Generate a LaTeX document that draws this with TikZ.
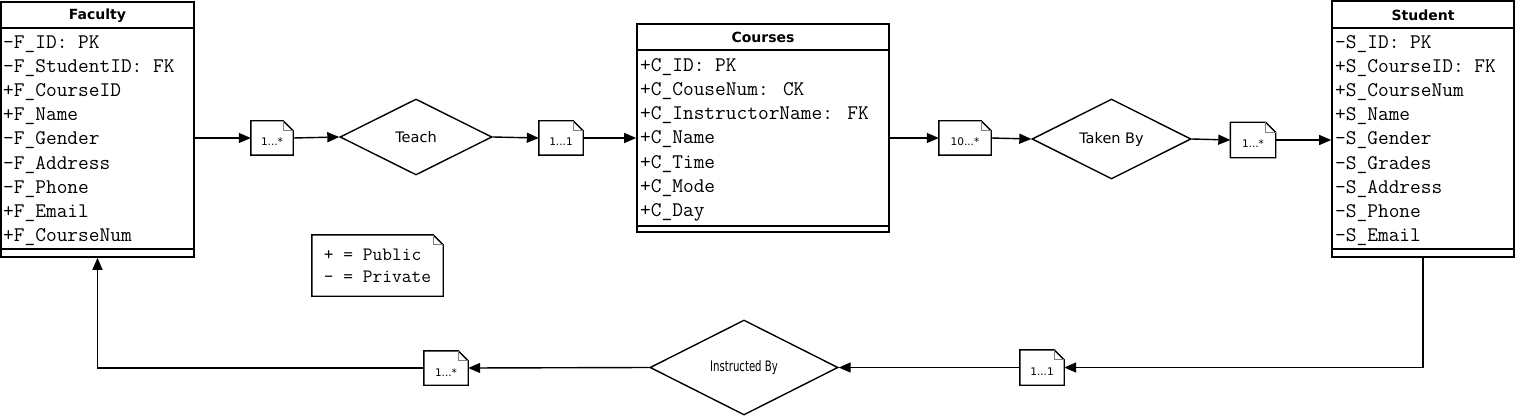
\documentclass[tikz,border=0pt]{standalone}
\usepackage{graphicx}
\usepackage{fontspec}
\setmainfont{DejaVu Sans}
\usetikzlibrary{shapes.geometric,arrows.meta}

\begin{document}
\begin{tikzpicture}[x=1pt,y=-1pt,
	box/.style={draw,line width=1.6pt,inner sep=0},
	attr/.style={anchor=base west,inner sep=0,font=\ttfamily\fontsize{20.8}{24}\selectfont},
	head/.style={inner sep=0,font=\bfseries\fontsize{14}{16}\selectfont},
	rel/.style={draw,diamond,line width=1.4pt,inner sep=0,font=\fontsize{14.5}{16}\selectfont},
	mult/.style={inner sep=0,text height=16pt,text depth=0pt,font=\fontsize{10.5}{12}\selectfont},
	conn/.style={line width=1.4pt,-{Triangle[length=12pt,width=10pt]}}]
	\useasboundingbox (0,0) rectangle (1515,417);
	\node[box,minimum width=193,minimum height=255] (fac) at (97.5,129.5) {};
	\draw[line width=1.6pt] ([yshift=-27pt]fac.north west) -- ([yshift=-27pt]fac.north east);
	\draw[line width=1.6pt] ([yshift=9pt]fac.south west) -- ([yshift=9pt]fac.south east);
	\node[head] (facname) at (97.5,15.5) {Faculty};
	\foreach \a [count=\i] in {-F\_ID: PK,-F\_StudentID: FK,+F\_CourseID,+F\_Name,-F\_Gender,-F\_Address,-F\_Phone,+F\_Email,+F\_CourseNum}
		\node[attr] (fa\i) at (3,25+24*\i) {\a};
	\node[box,minimum width=252,minimum height=208] (crs) at (763,128) {};
	\draw[line width=1.6pt] ([yshift=-27pt]crs.north west) -- ([yshift=-27pt]crs.north east);
	\draw[line width=1.6pt] ([yshift=7pt]crs.south west) -- ([yshift=7pt]crs.south east);
	\node[head] (crsname) at (763,37.5) {Courses};
	\foreach \a [count=\i] in {+C\_ID: PK,+C\_CouseNum: CK,+C\_InstructorName: FK,+C\_Name,+C\_Time,+C\_Mode,+C\_Day}
		\node[attr] (ca\i) at (640,48+24*\i) {\a};
	\node[box,minimum width=182,minimum height=256] (stu) at (1423,129) {};
	\draw[line width=1.6pt] ([yshift=-28pt]stu.north west) -- ([yshift=-28pt]stu.north east);
	\draw[line width=1.6pt] ([yshift=9pt]stu.south west) -- ([yshift=9pt]stu.south east);
	\node[head] (stuname) at (1423,15) {Student};
	\foreach \a [count=\i] in {-S\_ID: PK,+S\_CourseID: FK,+S\_CourseNum,+S\_Name,-S\_Gender,-S\_Grades,-S\_Address,-S\_Phone,-S\_Email}
		\node[attr] (sa\i) at (1335,25+24*\i) {\a};
	\node[rel,minimum width=152,minimum height=76] (teach) at (416,137) {Teach};
	\node[rel,minimum width=159,minimum height=80] (taken) at (1111.5,139) {Taken By};
	\node[rel,minimum width=188,minimum height=95] (instr) at (744,367.5) {\scalebox{0.7}[1]{Instructed By}};
	\node[mult,minimum width=42,minimum height=34] (m1) at (272,138) {1...*};
	\node[mult,minimum width=44,minimum height=34] (m2) at (561,138) {1...1};
	\node[mult,minimum width=52,minimum height=34] (m3) at (965,138) {10...*};
	\node[mult,minimum width=45,minimum height=35] (m4) at (1253,140) {1...*};
	\node[mult,minimum width=44,minimum height=34] (m5) at (446,368) {1...*};
	\node[mult,minimum width=44,minimum height=35] (m6) at (1042,367.5) {1...1};
	\node[inner sep=0,minimum width=131,minimum height=61,align=left,font=\ttfamily\fontsize{18.9}{22}\selectfont] (key) at (377.5,265.5) {+ = Public\\- = Private};
	\foreach \n in {m1,m2,m3,m4,m5,m6,key} {
		\draw[line width=1.4pt] (\n.north west) -- ([xshift=-10pt]\n.north east) -- ([yshift=-10pt]\n.north east) -- (\n.south east) -- (\n.south west) -- cycle;
		\draw[line width=0.8pt,gray] ([xshift=-10pt]\n.north east) |- ([yshift=-10pt]\n.north east);
	}
	\draw[conn] (m1.west -| fac.east) -- (m1.west);
	\draw[conn] (m1.east) -- (teach.west);
	\draw[conn] (teach.east) -- (m2.west);
	\draw[conn] (m2.east) -- (m2.east -| crs.west);
	\draw[conn] (m3.west -| crs.east) -- (m3.west);
	\draw[conn] (m3.east) -- (taken.west);
	\draw[conn] (taken.east) -- (m4.west);
	\draw[conn] (m4.east) -- (m4.east -| stu.west);
	\draw[conn] (stu.south) |- (m6.east);
	\draw[conn] (m6.west) -- (instr.east);
	\draw[conn] (instr.west) -- (m5.east);
	\draw[conn] (m5.west) -| (fac.south);
\end{tikzpicture}
\end{document}
